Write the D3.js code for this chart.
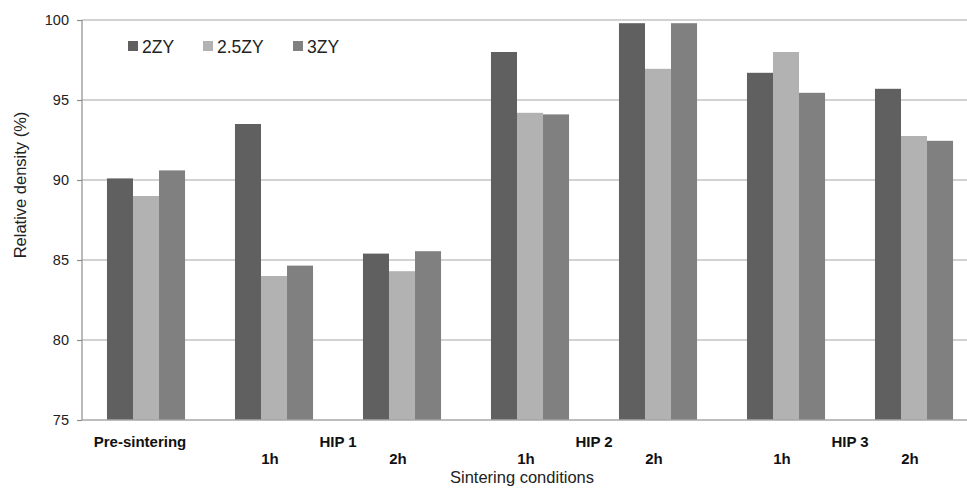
<!DOCTYPE html>
<html>
<head>
<meta charset="utf-8">
<script src="https://cdn.jsdelivr.net/npm/d3@7"></script>
<style>
  html, body { margin: 0; padding: 0; background: #fff; }
  svg { display: block; font-family: "Liberation Sans", Arial, sans-serif; }
</style>
</head>
<body>
<svg id="chart" width="967" height="489"></svg>
<script>
// ---- data ----
const categories = ["Pre-sintering", "HIP 1 1h", "HIP 1 2h", "HIP 2 1h", "HIP 2 2h", "HIP 3 1h", "HIP 3 2h"];
const subLabels = ["", "1h", "2h", "1h", "2h", "1h", "2h"];
const groupLabels = ["Pre-sintering", "HIP 1", "HIP 2", "HIP 3"];
const seriesNames = ["2ZY", "2.5ZY", "3ZY"];
const values2ZY  = [90.1, 93.5, 85.4, 98.0, 99.8, 96.7, 95.7];
const values25ZY = [89.0, 84.0, 84.3, 94.2, 96.95, 98.0, 92.75];
const values3ZY  = [90.6, 84.65, 85.55, 94.1, 99.8, 95.45, 92.45];
const yTicks = [75, 80, 85, 90, 95, 100];
const colors = ["#606060", "#b2b2b2", "#808080"];

const series = [values2ZY, values25ZY, values3ZY];

const svg = d3.select("#chart");
const mLeft = 82, mRight = 978, mTop = 20, mBottom = 420;

const x0 = d3.scaleBand().domain(categories).range([mLeft, mRight])
  .paddingInner(0.39).paddingOuter(0.195);
const x1 = d3.scaleBand().domain(seriesNames).range([0, x0.bandwidth()]);
const y = d3.scaleLinear().domain([75, 100]).range([mBottom, mTop]);

// gridlines
svg.append("g").selectAll("line").data(yTicks.filter(t => t > 75)).join("line")
  .attr("x1", mLeft).attr("x2", 967)
  .attr("y1", d => y(d)).attr("y2", d => y(d))
  .attr("stroke", "#a6a6a6").attr("stroke-width", 1.2);

// bars
const g = svg.append("g");
categories.forEach((c, i) => {
  seriesNames.forEach((s, j) => {
    g.append("rect")
      .attr("x", x0(c) + x1(s))
      .attr("y", y(series[j][i]))
      .attr("width", x1.bandwidth())
      .attr("height", y(75) - y(series[j][i]))
      .attr("fill", colors[j]);
  });
});

// y axis
const yAxis = d3.axisLeft(y).tickValues(yTicks).tickSize(5).tickPadding(8);
const ya = svg.append("g").attr("transform", `translate(${mLeft},0)`).call(yAxis);
ya.select(".domain").attr("stroke", "#8c8c8c").attr("stroke-width", 1.2).attr("d", `M0,${mTop}V${mBottom}`);
ya.selectAll(".tick line").attr("stroke", "#8c8c8c").attr("stroke-width", 1.2);
ya.selectAll(".tick text").attr("font-size", "14.5px").attr("fill", "#222")
  .attr("font-family", "Liberation Sans, Arial, sans-serif");

// x axis line
svg.append("line").attr("x1", mLeft).attr("x2", 967).attr("y1", mBottom).attr("y2", mBottom)
  .attr("stroke", "#a6a6a6").attr("stroke-width", 1.4);

// sub labels (1h / 2h)
svg.append("g").selectAll("text").data(categories).join("text")
  .attr("x", d => x0(d) + x0.bandwidth() / 2 - 4)
  .attr("y", 464)
  .attr("text-anchor", "middle")
  .attr("font-size", "15px").attr("font-weight", "bold").attr("fill", "#111")
  .text((d, i) => subLabels[i]);

// group labels
const groupPos = [
  x0(categories[0]) + x0.bandwidth() / 2 - 6,
  (x0(categories[1]) + x0(categories[2]) + x0.bandwidth()) / 2,
  (x0(categories[3]) + x0(categories[4]) + x0.bandwidth()) / 2,
  (x0(categories[5]) + x0(categories[6]) + x0.bandwidth()) / 2
];
svg.append("g").selectAll("text").data(groupLabels).join("text")
  .attr("x", (d, i) => groupPos[i])
  .attr("y", 446.5)
  .attr("text-anchor", "middle")
  .attr("font-size", "15px").attr("font-weight", "bold").attr("fill", "#111")
  .text(d => d);

// axis titles
svg.append("text").attr("x", 522).attr("y", 482.5).attr("text-anchor", "middle")
  .attr("font-size", "16.5px").attr("fill", "#222").text("Sintering conditions");
svg.append("text").attr("transform", "translate(26,185) rotate(-90)")
  .attr("text-anchor", "middle").attr("font-size", "16.5px").attr("fill", "#222")
  .text("Relative density (%)");

// legend
const legX = [128, 203, 293];
const leg = svg.append("g");
seriesNames.forEach((s, j) => {
  leg.append("rect").attr("x", legX[j]).attr("y", 41).attr("width", 10).attr("height", 10)
    .attr("fill", colors[j]);
  leg.append("text").attr("x", legX[j] + 14).attr("y", 52.5)
    .attr("font-size", "17.5px").attr("fill", "#222").text(s);
});
</script>
</body>
</html>
